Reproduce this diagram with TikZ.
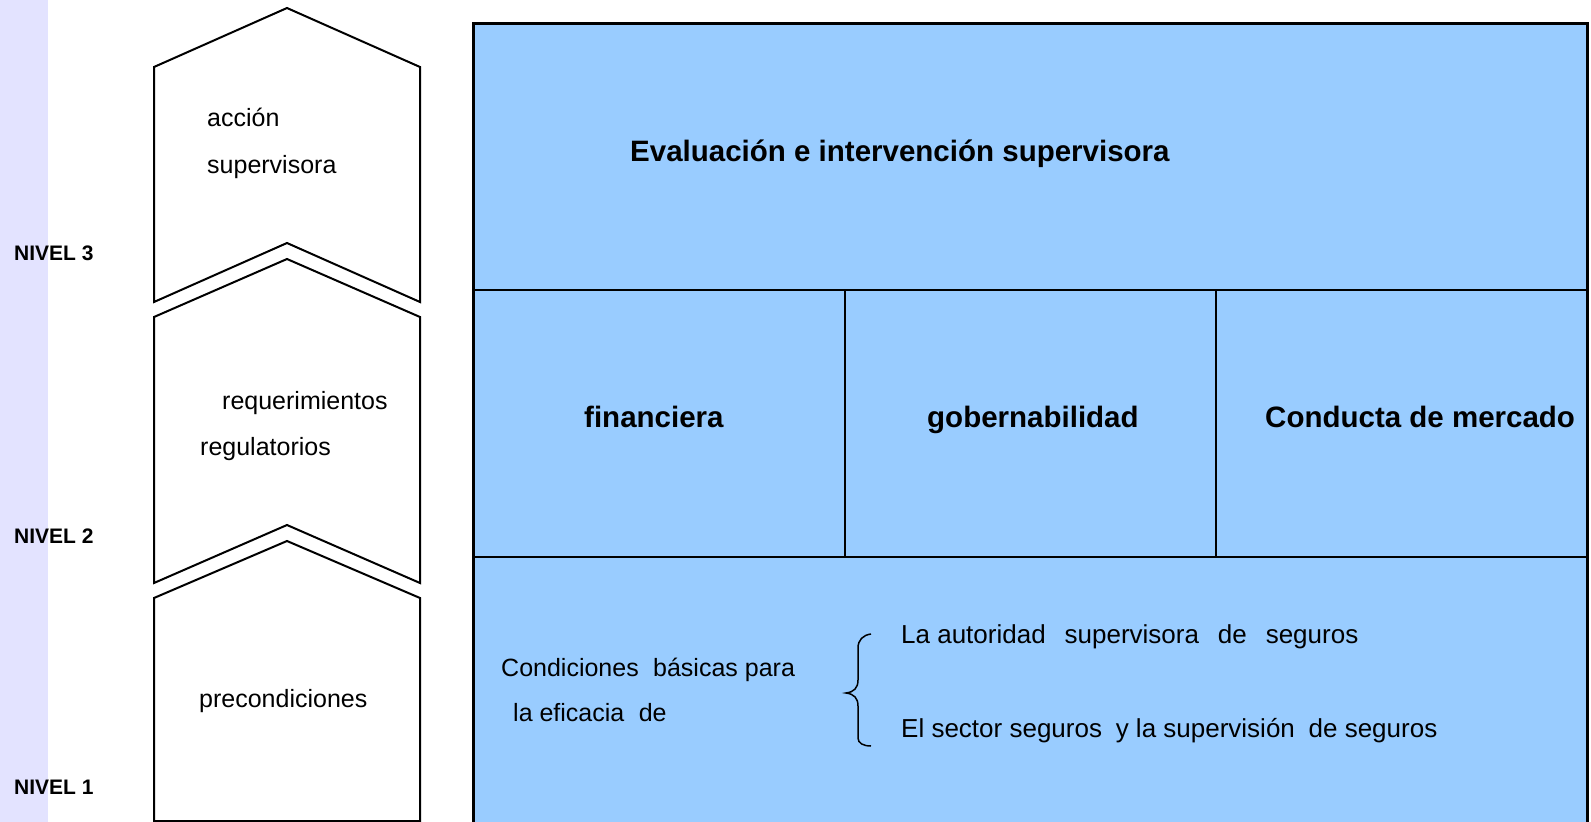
\documentclass[tikz,border=0pt]{standalone}
\usepackage{fontspec}
\setmainfont{Liberation Sans}
\definecolor{panel}{HTML}{99CCFF}
\definecolor{strip}{RGB}{227,227,255}
\begin{document}
\begin{tikzpicture}[x=1pt,y=-1pt,
  lvl/.style={font=\bfseries\fontsize{21}{25}\selectfont, anchor=base west, inner sep=0pt},
  plain/.style={font=\fontsize{25}{30}\selectfont, anchor=base west, inner sep=0pt},
  plainb/.style={font=\fontsize{26}{30}\selectfont, anchor=base west, inner sep=0pt},
  head/.style={font=\bfseries\fontsize{29.5}{35}\selectfont, anchor=base west, inner sep=0pt},
  chev/.style={draw=black, fill=white, line width=2pt, line join=miter},
  gridline/.style={draw=black, line width=2.5pt},
  bracepath/.style={draw=black, line width=1.5pt}]
\useasboundingbox (0,0) rectangle (1591,822);
\clip (0,0) rectangle (1591,822);
% left strip
\fill[strip] (0,0) rectangle (48,822);
% chevrons
\path[chev] (154,67) -- (287,8) -- (420,67) -- (420,302) -- (287,243) -- (154,302) -- cycle;
\path[chev] (154,317) -- (287,259) -- (420,317) -- (420,583) -- (287,525) -- (154,583) -- cycle;
\path[chev] (154,598) -- (287,541) -- (420,598) -- (420,821) -- (154,821) -- cycle;
% main panel
\fill[panel] (473,23) rectangle (1587,840);
\draw[gridline] (473,290) -- (1587,290);
\draw[gridline] (473,557) -- (1587,557);
\draw[gridline] (845,290) -- (845,557);
\draw[gridline] (1216,290) -- (1216,557);
\draw[line width=3pt] (473,840) -- (473,23) -- (1587,23) -- (1587,840);
% brace
\coordinate (btop) at (871,634);
\coordinate (bbot) at (871,746);
\coordinate (btip) at (846,693);
\draw[bracepath] (btop) .. controls (863,635) and (858,640) .. (858,648) -- (858,680)
  .. controls (858,688) and (854,692) .. (btip)
  .. controls (854,694) and (858,698) .. (858,706) -- (858,738)
  .. controls (858,743) and (863,746) .. (bbot);
% level labels
\node[lvl] (n3) at (14,260) {NIVEL 3};
\node[lvl] (n2) at (14,543) {NIVEL 2};
\node[lvl] (n1) at (14,794) {NIVEL 1};
% chevron texts
\node[plain] (c3a) at (207,126) {acción};
\node[plain] (c3b) at (207,173) {supervisora};
\node[plain] (c2a) at (222,409) {requerimientos};
\node[plain] (c2b) at (200,455) {regulatorios};
\node[plain] (c1) at (199,707) {precondiciones};
% panel texts
\node[head] (eval) at (630,161) {Evaluación e intervención supervisora};
\node[head] (fin) at (584,427) {financiera};
\node[head] (gob) at (927,427) {gobernabilidad};
\node[head] (cond) at (1265,427) {Conducta de mercado};
\node[plain] (cb1) at (501,676) {Condiciones\hspace{0.3em} básicas para};
\node[plain] (cb2) at (513,721) {la eficacia\hspace{0.3em} de};
\node[plainb] (aut) at (901,643) {La autoridad\hspace{0.45em} supervisora\hspace{0.45em} de\hspace{0.45em} seguros};
\node[plainb] (sec) at (901,737) {El sector seguros\hspace{0.25em} y la supervisión\hspace{0.25em} de seguros};
\end{tikzpicture}
\end{document}
